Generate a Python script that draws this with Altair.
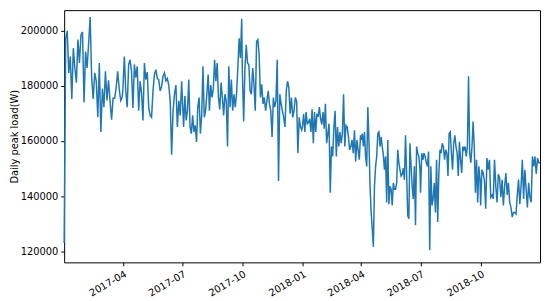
import altair as alt
import pandas as pd

# Daily peak load, one list per quarter
q2017_1 = [123000, 197000, 200000, 184700, 190700, 175300, 193700, 186500, 181200, 196800,
           188300, 198500, 199600, 174000, 192500, 186500, 195400, 205000, 183000, 175300,
           184700, 181800, 168600, 188300, 163300, 179000, 172300, 185300, 174700, 182000,
           174700, 167700, 175500, 175500, 179300, 185300, 179000, 174700, 176000]
q2017_2 = [178900, 190700, 178200, 172300, 187700, 189500, 185300, 172000, 187800, 183000,
           187100, 171000, 181700, 177500, 167500, 188300, 182300, 185000, 172300, 169300,
           168600, 178200, 184100, 185900, 182700, 182300, 178200, 179800, 183500, 184700,
           181800, 182700, 180300, 174600, 155000, 171000, 177000, 180300, 165100, 174600,
           169300, 181700]
q2017_3 = [175800, 165100, 176400, 167500, 171000, 182300, 165100, 162700, 169300, 163300,
           165700, 159700, 172300, 175800, 162700, 169300, 187100, 168600, 171000, 177000,
           184100, 171000, 180300, 175800, 179000, 189500, 181700, 188300, 175800, 171500,
           181200, 176000, 169300, 177000, 174600, 158000, 187100, 172300, 182300, 171000,
           177000, 172300, 177000, 186500, 197300, 190100, 204400]
q2017_4 = [185300, 167100, 186500, 194900, 188300, 187700, 178200, 177000, 186500, 180600,
           171000, 196100, 196800, 191300, 175800, 180600, 173500, 175800, 171000, 174600,
           178200, 173500, 171000, 161500, 175800, 172300, 174600, 189500, 145500, 177000,
           173500, 171000, 168600, 165100, 178200, 181700, 179400, 169900, 175800, 168600,
           171000, 175800, 174600, 155600, 168600, 165100, 164000]
q2018_1 = [165100, 169900, 163300, 170500, 166300, 166700, 168100, 163300, 171500, 159200,
           170500, 163300, 169900, 168800, 172300, 168100, 166000, 170500, 164500, 173500,
           159200, 162700, 166300, 141200, 158000, 154400, 165100, 171000, 154400, 165100,
           158000, 163300, 159200, 162700, 177000, 158000, 165700, 165100, 161600, 156800,
           158000, 160400, 155600, 163900, 152600, 160400, 156800, 153200, 162100]
q2018_2 = [160400, 162700, 158000, 163300, 154400, 150800, 172300, 160400, 143600, 134100,
           128100, 121600, 143600, 150800, 154400, 162700, 163300, 158000, 161500, 158000,
           155000, 149600, 154400, 137700, 160400, 137100, 143600, 142500, 136600, 144800,
           142500, 142500, 144800, 156800, 152100, 149600, 147300, 147900, 150200, 145900,
           162100, 148400, 133000, 131800, 159200, 151000, 143600, 139000, 150800, 129400,
           158000, 155600, 154400, 150200]
q2018_3 = [141200, 155600, 153200, 155600, 154400, 152100, 150800, 156200, 120500, 150800,
           136600, 138900, 144800, 134100, 153200, 130600, 148400, 156800, 155600, 159200,
           158000, 153200, 156800, 155600, 147300, 162700, 163300, 155600, 149600, 159200,
           162100, 158000, 155600, 147300, 159700, 153200, 148400, 158000, 156800, 158000,
           154400, 158000, 183500, 155600, 152100, 158000, 167100, 158000, 141200, 153200,
           137700, 150800, 146000]
q2018_4 = [136600, 149600, 148400, 145500, 135400, 153800, 149600, 153200, 139600, 140400,
           139000, 153200, 143600, 137700, 147900, 146700, 139600, 145900, 136600, 143600,
           148400, 140400, 144800, 137700, 135900, 132400, 134100, 134100, 133500, 140400,
           146000, 137100, 143600, 153200, 139000, 149600, 142500, 135900, 144800, 139600,
           137800, 154400, 150800, 154400, 148100, 153800, 152100, 152100]

quarters = [
    ("2017-01-01", "2017-03-31", q2017_1),
    ("2017-04-01", "2017-06-30", q2017_2),
    ("2017-07-01", "2017-09-30", q2017_3),
    ("2017-10-01", "2017-12-31", q2017_4),
    ("2018-01-01", "2018-03-31", q2018_1),
    ("2018-04-01", "2018-06-30", q2018_2),
    ("2018-07-01", "2018-09-30", q2018_3),
    ("2018-10-01", "2018-12-31", q2018_4),
]

x_tick_months = [(2017, 4), (2017, 7), (2017, 10), (2018, 1), (2018, 4), (2018, 7), (2018, 10)]
y_ticks = [120000, 140000, 160000, 180000, 200000]

frames = []
for start, end, vals in quarters:
    frames.append(pd.DataFrame({
        "date": pd.date_range(start, end, periods=len(vals)),
        "load": vals,
    }))
df = pd.concat(frames, ignore_index=True)

font = "DejaVu Sans"

x_axis = alt.Axis(
    values=[alt.DateTime(year=y, month=m, date=1) for y, m in x_tick_months],
    format="%Y-%m", labelAngle=-30, labelAlign="right", labelBaseline="top",
    labelOverlap=False, labelFlush=False, title=None, grid=False, domain=False,
    tickSize=3.5, tickColor="black", labelPadding=3, labelFontSize=10,
    labelFont=font, labelColor="black",
)
y_axis = alt.Axis(
    values=y_ticks, format="d", title="Daily peak load(W)", grid=False, domain=False,
    tickSize=3.5, tickColor="black", labelPadding=3, labelFontSize=10,
    labelFont=font, labelColor="black", titleFont=font, titleFontSize=10,
    titleFontWeight="normal", titleColor="black", titlePadding=1,
)

chart = alt.Chart(df).mark_line(color="#1f77b4", strokeWidth=1.5).encode(
    x=alt.X("date:T", axis=x_axis,
            scale=alt.Scale(domain=[alt.DateTime(year=2017, month=1, date=1),
                                    alt.DateTime(year=2018, month=12, date=31)], nice=False)),
    y=alt.Y("load:Q", axis=y_axis,
            scale=alt.Scale(domain=[115960, 207500], nice=False, zero=False)),
).properties(
    width=483, height=256,
    autosize=alt.AutoSizeParams(type="none"),
    padding={"left": 57, "top": 0, "right": 2, "bottom": 36},
).configure_view(stroke="black", strokeWidth=1)

chart.save("out.html", embed_options={"renderer": "svg", "actions": False})
